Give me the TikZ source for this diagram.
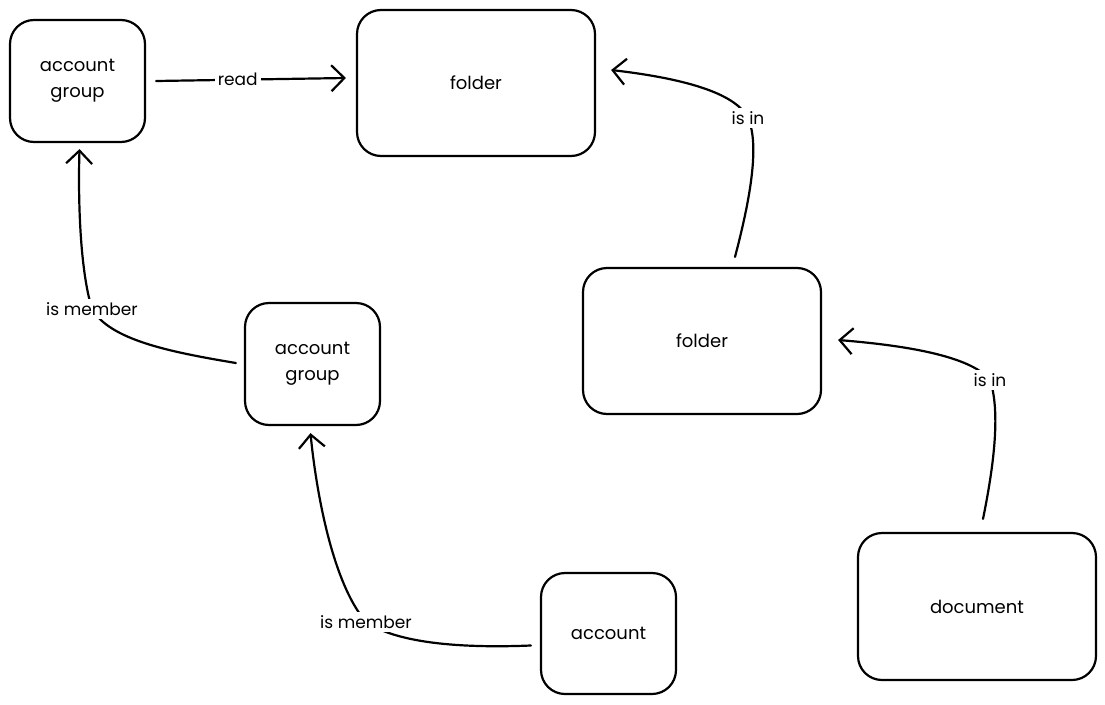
\documentclass[tikz,border=0pt]{standalone}
\usepackage{fontspec}
\setmainfont{Poppins}
\usetikzlibrary{arrows.meta}
\begin{document}
\begin{tikzpicture}[x=1pt,y=-1pt,
  box/.style={draw, line width=2.2pt, rounded corners=24pt, inner sep=0pt, align=center,
    font=\fontsize{18}{26}\selectfont},
  conn/.style={line width=2.2pt, line cap=round, -{Straight Barb[length=13pt,width=26pt,line width=2.2pt]}},
  lbl/.style={fill=white, inner sep=3pt, font=\fontsize{17}{20}\selectfont}]
\useasboundingbox (0,0) rectangle (1105,704);
\node[box, minimum width=135pt, minimum height=122pt] (ag1) at (77.5,81) {account\\group};
\node[box, minimum width=238pt, minimum height=146pt] (f1) at (476,83) {folder};
\node[box, minimum width=238pt, minimum height=146pt] (f2) at (702,341) {folder};
\node[box, minimum width=135pt, minimum height=122pt] (ag2) at (312.5,364) {account\\group};
\node[box, minimum width=135pt, minimum height=121pt] (acc) at (608.5,633.5) {account};
\node[box, minimum width=238pt, minimum height=147pt] (doc) at (977,606.5) {document};
% connector end points
\coordinate (r1) at ([xshift=10pt]ag1.east);
\coordinate (r2) at ([xshift=-10pt,yshift=5pt]f1.west);
\coordinate (i1s) at ([xshift=33pt,yshift=10pt]f2.north);
\coordinate (i1e) at ([xshift=15pt,yshift=13pt]f1.east);
\coordinate (i2s) at ([xshift=6pt,yshift=13pt]doc.north);
\coordinate (i2e) at ([xshift=16pt,yshift=1pt]f2.east);
\coordinate (m1s) at ([xshift=-8pt,yshift=1pt]ag2.west);
\coordinate (m1e) at ([xshift=2pt,yshift=-6pt]ag1.south);
\coordinate (m2s) at ([xshift=-9pt,yshift=-12pt]acc.west);
\coordinate (m2e) at ([xshift=-2pt,yshift=-7pt]ag2.south);
\draw[conn] (r1) -- node[lbl, pos=0.43] {read} (r2);
\draw[conn] (i1s) .. controls (750,200) and (760,145) .. (748,118) node[lbl] {is in}
  .. controls (735,92) and (680,78) .. (i1e);
\draw[conn] (i2s) .. controls (995,460) and (1000,410) .. (990,380) node[lbl] {is in}
  .. controls (970,355) and (900,345) .. (i2e);
\draw[conn] (m1s) .. controls (170,352) and (110,340) .. (92,309) node[lbl] {is member}
  .. controls (80,270) and (78,200) .. (m1e);
\draw[conn] (m2s) .. controls (470,648) and (400,645) .. (366,622) node[lbl] {is member}
  .. controls (330,580) and (315,480) .. (m2e);
\end{tikzpicture}
\end{document}
